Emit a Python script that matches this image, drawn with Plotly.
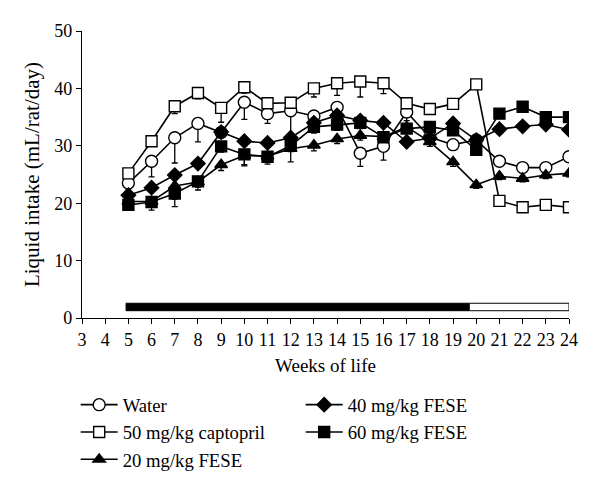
import plotly.graph_objects as go

weeks = list(range(5, 25))

water = [23.5, 27.3, 31.4, 33.9, 32.3, 37.6, 35.6, 36.1, 35.2, 36.7, 28.7, 29.9, 35.9, 31.5, 30.2, 31.0, 27.3, 26.2, 26.2, 28.1]
water_err = [1.0, 2.7, 4.4, 3.2, 0.8, 3.0, 1.7, 4.5, 1.0, 1.2, 2.3, 2.4, 1.5, 1.0, 1.0, 0.8, 0.6, 0.6, 0.6, 0.6]

captopril = [25.2, 30.8, 36.9, 39.2, 36.6, 40.2, 37.4, 37.5, 40.0, 40.9, 41.2, 40.9, 37.4, 36.4, 37.3, 40.7, 20.4, 19.3, 19.7, 19.3]
captopril_err = [0.8, 0.8, 1.3, 1.0, 2.5, 1.0, 0.8, 0.8, 1.5, 2.1, 2.7, 1.8, 0.8, 0.8, 0.8, 0.8, 0.5, 0.5, 0.5, 0.5]

fese20 = [20.3, 20.3, 23.0, 23.7, 26.7, 28.3, 28.2, 29.5, 30.1, 31.2, 31.8, 31.6, 33.3, 30.7, 27.2, 23.2, 24.7, 24.3, 24.9, 25.2]
fese20_err = [0.8, 1.0, 2.3, 1.4, 1.0, 1.8, 1.0, 2.3, 1.0, 0.8, 0.8, 0.8, 0.8, 0.8, 0.8, 0.6, 0.6, 0.6, 0.6, 0.6]

fese40 = [21.4, 22.7, 24.9, 26.9, 32.4, 30.8, 30.5, 31.4, 34.0, 35.3, 34.4, 34.0, 30.7, 31.3, 33.9, 31.0, 32.9, 33.4, 33.7, 32.8]
fese40_err = [0.6, 0.6, 0.6, 0.6, 0.6, 0.6, 0.6, 0.6, 0.6, 0.6, 0.6, 0.6, 0.6, 0.6, 0.6, 0.6, 0.6, 0.6, 0.6, 0.6]

fese60 = [19.7, 20.2, 21.7, 23.8, 29.9, 28.5, 28.1, 30.0, 33.3, 33.7, 34.0, 31.5, 33.0, 33.3, 32.7, 29.3, 35.6, 36.8, 35.0, 35.0]
fese60_err = [0.8, 1.4, 2.3, 1.0, 1.0, 1.8, 1.3, 1.0, 1.1, 1.0, 1.0, 0.8, 0.8, 0.8, 0.8, 0.6, 0.5, 0.5, 0.5, 0.5]

series_names = ["Water", "50 mg/kg captopril", "20 mg/kg FESE", "40 mg/kg FESE", "60 mg/kg FESE"]

treat_start, treat_end, study_end = 4.9, 19.7, 24.0
bar_center, bar_half = 1.92, 0.65

FONT = "Liberation Serif"

fig = go.Figure()

specs = [
    (water, water_err, series_names[0], "circle", "white", 12, "legend"),
    (captopril, captopril_err, series_names[1], "square", "white", 11, "legend"),
    (fese20, fese20_err, series_names[2], "triangle-up", "black", 11, "legend"),
    (fese40, fese40_err, series_names[3], "diamond", "black", 11, "legend2"),
    (fese60, fese60_err, series_names[4], "square", "black", 11, "legend2"),
]

for vals, errs, name, sym, fill, size, lg in specs:
    fig.add_trace(go.Scatter(
        x=weeks, y=vals, name=name, mode="lines+markers",
        line=dict(color="black", width=1.6),
        marker=dict(symbol=sym, size=size, color=fill, line=dict(color="black", width=1.4)),
        error_y=dict(type="data", symmetric=False, array=[0] * len(errs), arrayminus=errs,
                     color="black", thickness=1.3, width=3),
        legend=lg,
    ))

fig.add_shape(type="rect", xref="x", yref="y", x0=treat_start, x1=treat_end,
              y0=bar_center - bar_half, y1=bar_center + bar_half,
              fillcolor="black", line=dict(color="black", width=1))
fig.add_shape(type="rect", xref="x", yref="y", x0=treat_end, x1=study_end,
              y0=bar_center - bar_half, y1=bar_center + bar_half,
              fillcolor="white", line=dict(color="black", width=1))

fig.update_layout(
    width=600, height=488,
    margin=dict(l=74, r=39, t=23, b=178),
    paper_bgcolor="white", plot_bgcolor="white",
    font=dict(family=FONT, size=18, color="black"),
    xaxis=dict(range=[3, 24], tickmode="linear", tick0=3, dtick=1,
               showline=True, linecolor="black", linewidth=1.2,
               ticks="outside", ticklen=5, tickcolor="black",
               showgrid=False, zeroline=False,
               title=dict(text="Weeks of life", standoff=9, font=dict(size=19)),
               tickfont=dict(size=18)),
    yaxis=dict(range=[0, 50], tickmode="linear", tick0=0, dtick=10,
               showline=True, linecolor="black", linewidth=1.2,
               ticks="outside", ticklen=5, tickcolor="black",
               showgrid=False, zeroline=False,
               title=dict(text="Liquid intake (mL/rat/day)", standoff=8, font=dict(size=21)),
               tickfont=dict(size=18)),
    legend=dict(x=-0.013, y=-0.237, xanchor="left", yanchor="top",
                orientation="v", font=dict(size=18.7), bgcolor="rgba(0,0,0,0)",
                itemwidth=37, tracegroupgap=0),
    legend2=dict(x=0.449, y=-0.237, xanchor="left", yanchor="top",
                 orientation="v", font=dict(size=18.7), bgcolor="rgba(0,0,0,0)",
                 itemwidth=37, tracegroupgap=0),
    showlegend=True,
)

fig.write_html("out.html")
